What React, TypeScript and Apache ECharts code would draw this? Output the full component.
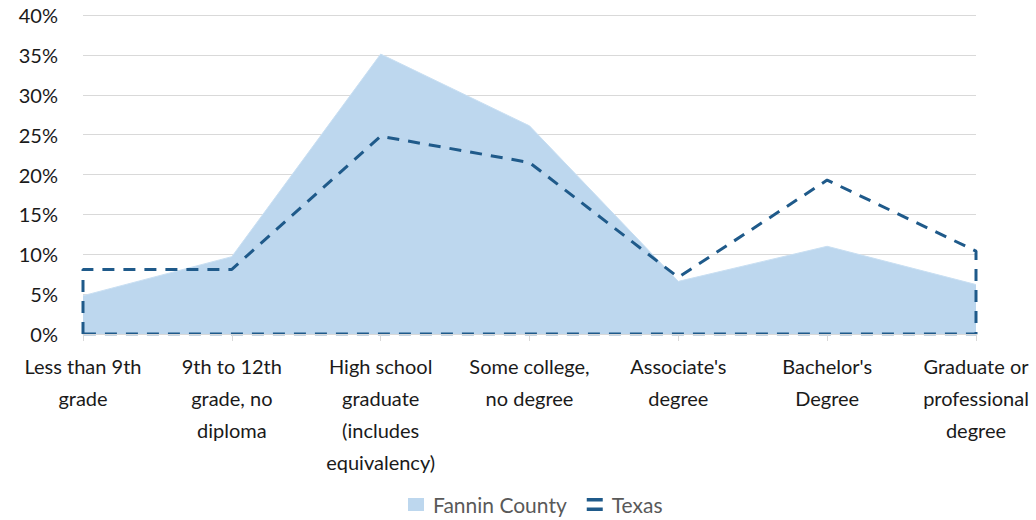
import React, { useEffect, useRef } from "react";
import * as echarts from "echarts";

const categories = [
  "Less than 9th\ngrade",
  "9th to 12th\ngrade, no\ndiploma",
  "High school\ngraduate\n(includes\nequivalency)",
  "Some college,\nno degree",
  "Associate's\ndegree",
  "Bachelor's\nDegree",
  "Graduate or\nprofessional\ndegree",
];
const fanninValues = [4.8, 9.7, 35.1, 26.1, 6.6, 11.0, 6.2];
const texasValues = [8.1, 8.1, 24.8, 21.5, 7.1, 19.3, 10.4];
const yTicks = [0, 5, 10, 15, 20, 25, 30, 35, 40];

const FONT = "Lato, 'Noto Sans', sans-serif";

export default function App() {
  const ref = useRef<HTMLDivElement>(null);
  useEffect(() => {
    if (!ref.current) return;
    const chart = echarts.init(ref.current, undefined, { renderer: "svg" });
    const last = texasValues.length - 1;
    const texasOutline: number[][] = [[0, 0]];
    texasValues.forEach((v, i) => texasOutline.push([i, v]));
    texasOutline.push([last, 0]);
    texasOutline.push([0, 0]);

    chart.setOption({
      animation: false,
      textStyle: { fontFamily: FONT },
      grid: { left: 83, right: 60, top: 15, bottom: 186, containLabel: false },
      legend: {
        bottom: 0,
        left: 403,
        itemGap: 20,
        itemWidth: 16,
        itemHeight: 13,
        textStyle: {
          fontSize: 21,
          color: "#595959",
          fontFamily: FONT,
          padding: [0, 0, 0, 4],
        },
        data: [
          { name: "Fannin County", icon: "rect", itemStyle: { color: "#BDD7EE" } },
          {
            name: "Texas",
            icon: "path://M0,0 L16,0 L16,3.5 L0,3.5 Z M0,9.5 L16,9.5 L16,13 L0,13 Z",
            itemStyle: { color: "#1F5A8A" },
          },
        ],
      },
      xAxis: [
        {
          type: "category",
          data: categories,
          boundaryGap: false,
          z: 5,
          axisLine: { show: true, lineStyle: { color: "#d9d9d9", width: 1 } },
          axisTick: { show: true, length: 7, lineStyle: { color: "#d9d9d9" } },
          axisLabel: {
            fontSize: 20,
            color: "#1a1a1a",
            lineHeight: 32,
            margin: 16,
            interval: 0,
            fontFamily: FONT,
          },
          splitLine: { show: false },
        },
        {
          type: "value",
          min: 0,
          max: last,
          show: false,
        },
      ],
      yAxis: {
        type: "value",
        min: 0,
        max: 40,
        interval: 5,
        axisLine: { show: false },
        axisTick: { show: false },
        axisLabel: {
          fontSize: 20,
          color: "#1a1a1a",
          margin: 25,
          fontFamily: FONT,
          formatter: (v: number) => (yTicks.includes(v) ? v + "%" : ""),
        },
        splitLine: { lineStyle: { color: "#d9d9d9", width: 1 } },
      },
      series: [
        {
          name: "Fannin County",
          type: "line",
          xAxisIndex: 0,
          data: fanninValues,
          symbol: "none",
          lineStyle: { color: "#C9DFF2", width: 1 },
          itemStyle: { color: "#BDD7EE" },
          areaStyle: { color: "#BDD7EE", opacity: 1 },
          z: 1,
        },
        {
          name: "Texas",
          type: "line",
          xAxisIndex: 1,
          data: texasOutline,
          symbol: "none",
          lineStyle: { color: "#1F5A8A", width: 3, type: [12, 9] },
          itemStyle: { color: "#1F5A8A" },
          z: 2,
        },
      ],
    });
    return () => chart.dispose();
  }, []);
  return (
    <div
      ref={ref}
      style={{ position: "absolute", left: 0, top: 0, width: 1036, height: 520 }}
    />
  );
}
